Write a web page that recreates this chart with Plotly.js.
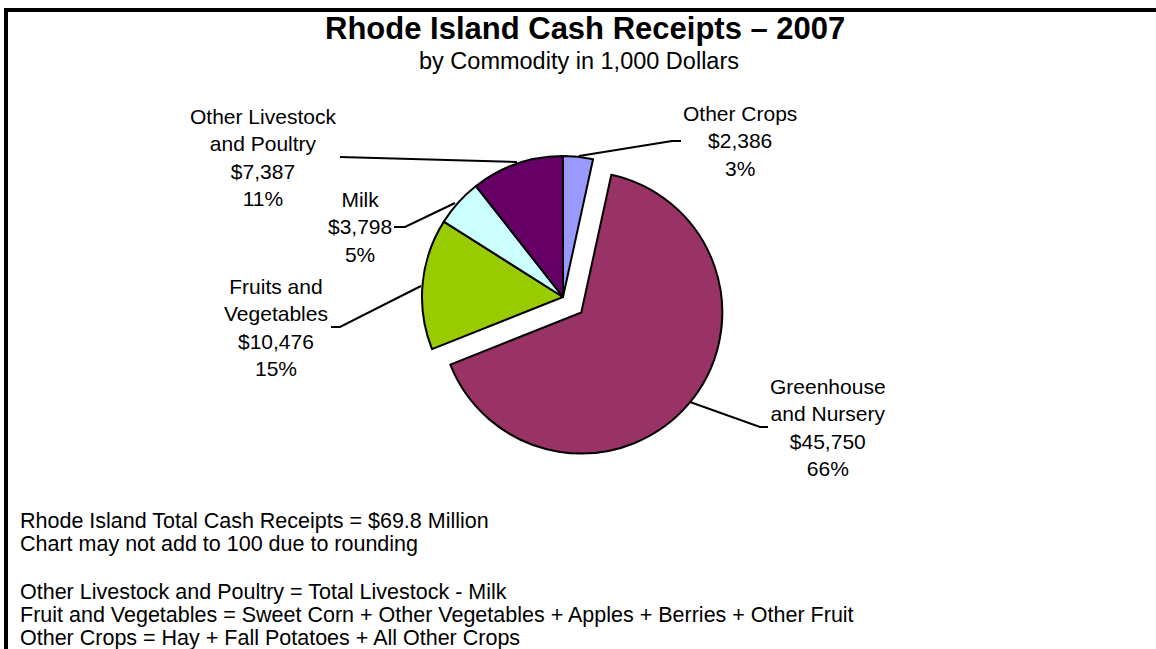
<!DOCTYPE html>
<html>
<head>
<meta charset="utf-8">
<script src="https://cdn.plot.ly/plotly-3.0.1.min.js"></script>
<style>html,body{margin:0;padding:0;background:#fff;}#chart{width:1156px;height:649px;}</style>
</head>
<body>
<div id="chart"></div>
<script>
// Data (in 1,000 Dollars), clockwise from 12 o'clock
var categories = ["Other Crops", "Greenhouse and Nursery", "Fruits and Vegetables", "Milk", "Other Livestock and Poultry"];
var labelLines = ["Other Crops", "Greenhouse<br>and Nursery", "Fruits and<br>Vegetables", "Milk", "Other Livestock<br>and Poultry"];
var values = [2386, 45750, 10476, 3798, 7387];
var colors = ["#9999FF", "#993366", "#99CC00", "#CCFFFF", "#660066"];
var pulls = [0, 0.17, 0, 0, 0];
var footnotes = [
  "Rhode Island Total Cash Receipts = $69.8 Million",
  "Chart may not add to 100 due to rounding",
  "",
  "Other Livestock and Poultry = Total Livestock - Milk",
  "Fruit and Vegetables = Sweet Corn + Other Vegetables + Apples + Berries + Other Fruit",
  "Other Crops = Hay + Fall Potatoes + All Other Crops"
];

var W = 1156, H = 649;
function px(x) { return x / W; }
function py(y) { return 1 - y / H; }

var total = values.reduce(function (a, b) { return a + b; }, 0);
function fmt(v) { return "$" + v.toLocaleString("en-US"); }

// label placement (pixels) [cx, cy]
var labelPos = [[740, 141], [828, 427], [276, 327], [360, 227], [263, 157]];
// leader lines (pixels)
var leaders = [
  [[579, 156], [672, 141], [681, 141]],
  [[690, 402], [760, 427], [768, 427]],
  [[421, 286], [340, 327], [331, 327]],
  [[455, 203], [405, 227], [394, 227]],
  [[517, 162], [340, 157]]
];

var font = "Arial, 'Liberation Sans', sans-serif";
var annotations = [];
annotations.push({text: "<b>Rhode Island Cash Receipts \u2013 2007</b>", x: px(585), y: py(28), xref: "paper", yref: "paper",
  xanchor: "center", yanchor: "middle", showarrow: false, font: {family: font, size: 31, color: "#000"}});
annotations.push({text: "by Commodity in 1,000 Dollars", x: px(579), y: py(61), xref: "paper", yref: "paper",
  xanchor: "center", yanchor: "middle", showarrow: false, font: {family: font, size: 23.5, color: "#000"}});

for (var i = 0; i < categories.length; i++) {
  var pct = Math.round(values[i] / total * 100) + "%";
  annotations.push({
    text: labelLines[i] + "<br>" + fmt(values[i]) + "<br>" + pct,
    x: px(labelPos[i][0]), y: py(labelPos[i][1]), xref: "paper", yref: "paper",
    xanchor: "center", yanchor: "middle", align: "center", showarrow: false,
    font: {family: font, size: 21, color: "#000"}
  });
}
var fy = [521, 544, 0, 592, 615, 638];
for (var j = 0; j < footnotes.length; j++) {
  if (!footnotes[j]) continue;
  annotations.push({text: footnotes[j], x: px(18), y: py(fy[j]), xref: "paper", yref: "paper",
    xanchor: "left", yanchor: "middle", align: "left", showarrow: false,
    font: {family: font, size: 21.5, color: "#000"}});
}

var shapes = [];
leaders.forEach(function (pts) {
  var d = pts.map(function (p, k) { return (k ? "L" : "M") + px(p[0]) + "," + py(p[1]); }).join(" ");
  shapes.push({type: "path", xref: "paper", yref: "paper", path: d, line: {color: "#000", width: 2}});
});
// frame
shapes.push({type: "line", xref: "paper", yref: "paper", x0: px(4), x1: 1, y0: py(10), y1: py(10), line: {color: "#000", width: 4}});
shapes.push({type: "line", xref: "paper", yref: "paper", x0: px(6), x1: px(6), y0: py(8), y1: 0, line: {color: "#000", width: 4}});

var r = 141, box = 2 * r * (1 + Math.max.apply(null, pulls)) / 2;
var cx = 563, cy = 297;

var trace = {
  type: "pie",
  labels: categories,
  values: values,
  sort: false,
  direction: "clockwise",
  rotation: 0,
  pull: pulls,
  textinfo: "none",
  hoverinfo: "label+value+percent",
  marker: {colors: colors, line: {color: "#000", width: 2}},
  domain: {x: [px(cx - box), px(cx + box)], y: [py(cy + box), py(cy - box)]},
  showlegend: false
};

var layout = {
  width: W, height: H,
  margin: {l: 0, r: 0, t: 0, b: 0},
  paper_bgcolor: "#fff",
  showlegend: false,
  annotations: annotations,
  shapes: shapes
};

Plotly.newPlot("chart", [trace], layout, {displayModeBar: false, staticPlot: true});
</script>
</body>
</html>
